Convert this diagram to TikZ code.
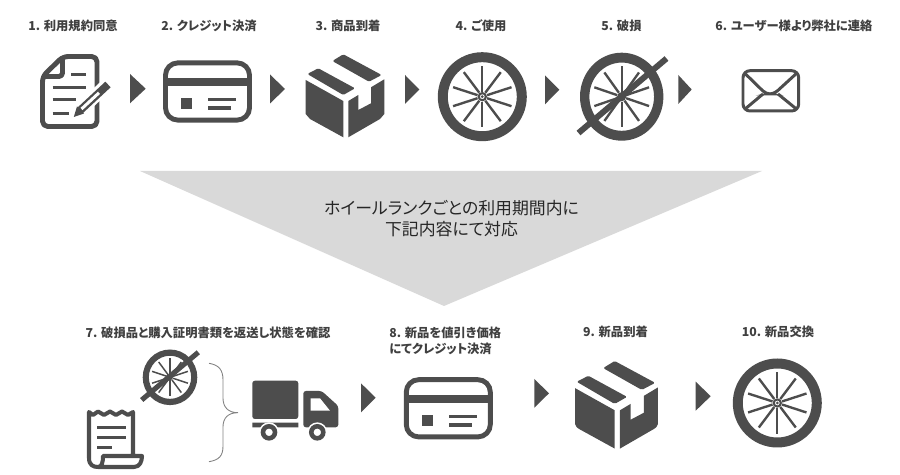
\documentclass[tikz,border=0pt]{standalone}
\usepackage{fontspec}
\setmainfont{Noto Sans CJK JP}
\usetikzlibrary{calc}
\definecolor{icongray}{HTML}{4D4D4D}
\definecolor{textgray}{HTML}{404040}
\definecolor{bandgray}{HTML}{D9D9D9}
\tikzset{
	stepicon/.style={draw=icongray, line width=2.8pt, line join=round},
	iconfill/.style={fill=icongray, draw=none},
	iconline/.style={draw=icongray, line width=1.7pt},
	slash/.style={draw=icongray, line width=#1},
	playmark/.style={fill=icongray, draw=none},
	steplabel/.style={font=\addfontfeatures{RawFeature=+palt}\fontsize{7}{9}\selectfont\bfseries, text=textgray, inner sep=0pt},
	bandtext/.style={font=\addfontfeatures{RawFeature=+palt}\fontsize{9.6}{11.9}\selectfont, text=black!85, inner sep=0pt, align=center}
}
% x, y, x radius, y radius
\def\wheelicon(#1,#2)(#3,#4){
	\begin{scope}[shift={(#1,#2)}, xscale=#3/44.5, yscale=#4/44.5]
		\fill[icongray, even odd rule] (0,0) circle (44.5) (0,0) circle (34.5);
		\foreach \a in {90,53,18,-18,-53,-90,-127,-162,162,127}
			\draw[icongray, line width=#4/44.5*1.35pt] (\a:5) -- (\a:30.7);
		\draw[icongray, line width=#4/44.5*1.2pt, fill=white] (0,0) circle (3.6);
		\fill[icongray] (0,0) circle (1.5);
	\end{scope}
}
\def\cardicon(#1,#2){
	\begin{scope}[shift={(#1,#2)}]
		\draw[stepicon, rounded corners=7] (-42,-28.6) rectangle (42,28.6);
		\fill[icongray] (-42,-13.5) rectangle (42,-5.5);
		\fill[icongray] (-26.5,6.5) rectangle (-15.5,17.5);
		\fill[icongray] (0.5,6.5) rectangle (28.5,10);
		\fill[icongray] (0.5,14.5) rectangle (23.5,18.5);
	\end{scope}
}
\def\boxicon(#1,#2)(#3){
	\begin{scope}[shift={(#1,#2)}, scale=#3]
		\fill[icongray, rounded corners=0.8] (-1.7,-41.7) -- (36.7,-21) -- (24,-14.3) -- (-12.7,-35) -- cycle;
		\fill[icongray, rounded corners=0.8] (-26.7,-27.7) -- (10,-7.7) -- (-1.7,-1) -- (-37.7,-22) -- cycle;
		\fill[icongray] (-39.3,-16) -- (-1.7,5) -- (-1.7,41.3) -- (-35,23) .. controls (-38,21) .. (-39.3,18) -- cycle;
		\fill[icongray] (3.3,5) -- (13.3,-1) -- (13.3,14) -- (26,7.3) -- (26,-8.7) -- (39.3,-16.7) -- (39.3,18) .. controls (38,21) .. (35,23) -- (3.3,41.3) -- cycle;
	\end{scope}
}

\begin{document}
\begin{tikzpicture}[x=0.02cm, y=-0.02cm]
	\useasboundingbox (0,0) rectangle (900,475);
	
	% labels, top row
	\node[steplabel] (label1) at (73,25.5) {1. 利用規約同意};
	\node[steplabel] (label2) at (209,25.5) {2. クレジット決済};
	\node[steplabel] (label3) at (348,25.5) {3. 商品到着};
	\node[steplabel] (label4) at (481,25.5) {4. ご使用};
	\node[steplabel] (label5) at (621.5,25.5) {5. 破損};
	\node[steplabel] (label6) at (794,25.5) {6. ユーザー様より弊社に連絡};
	
	% document
	\draw[stepicon, rounded corners=3] (42.5,76.5) -- (63,56.5) -- (97,56.5) -- (97,126.5) -- (42.5,126.5) -- cycle;
	\draw[stepicon, rounded corners=2] (42.5,76.5) -- (62.5,76.5) -- (62.5,56.5);
	\draw[iconline] (71,74.3) -- (86,74.3);
	\draw[iconline] (52.7,87.3) -- (86,87.3);
	\draw[iconline] (52.7,100) -- (76,100);
	\draw[iconline] (52.7,113.3) -- (69.3,113.3);
	\draw[white, line width=7.6pt] (76,114) -- (109,83);
	\draw[icongray, line width=4.4pt] (80,110.5) -- (108,84.5);
	\draw[white, line width=1.7pt] (81.5,109) -- (99,92.8);
	\fill[icongray] (73.8,117) -- (77,106.5) -- (84,113.5) -- cycle;
	
	\fill[playmark] (130,74) -- (145.7,88.7) -- (130,103.3) -- cycle;
	\cardicon(207.5,91.5)
	\fill[playmark] (270,74.5) -- (285,89) -- (270,103.5) -- cycle;
	\boxicon(345,96)(1)
	\fill[playmark] (405,75) -- (419.3,89.5) -- (405,104) -- cycle;
	\wheelicon(482.3,96.7)(44.5,44.5)
	\fill[playmark] (545,75.3) -- (559.3,89.8) -- (545,104.3) -- cycle;
	\wheelicon(621.7,96.7)(41.7,44)
	\draw[slash=3.4pt] (578.5,133) -- (666.5,58.5);
	\fill[playmark] (678.3,75) -- (691.7,89.5) -- (678.3,104) -- cycle;
	
	% envelope
	\draw[icongray, line width=1.7pt, rounded corners=4] (743,70.7) rectangle (798.7,111);
	\draw[icongray, line width=1.7pt, rounded corners=2.5] (744,72.5) -- (766,94) -- (774,94) -- (797.5,72.5);
	\draw[iconline] (744.5,109.5) -- (763,94);
	\draw[iconline] (797,109.5) -- (778,94);
	
	% band
	\fill[bandgray] (140,171) -- (762,171) -- (444,306) -- cycle;
	\node[bandtext] (bandnote) at (451.5,218.5) {ホイールランクごとの利用期間内に\\下記内容にて対応};
	
	% labels, bottom row
	\node[steplabel] (label7) at (208,333) {7. 破損品と購入証明書類を返送し状態を確認};
	\node[steplabel, anchor=west, align=left] (label8) at (389,340.5) {8. 新品を値引き価格\\にてクレジット決済};
	\node[steplabel] (label9) at (615.5,332) {9. 新品到着};
	\node[steplabel] (label10) at (778,332) {10. 新品交換};
	
	\wheelicon(170,377.3)(27.3,27.8)
	\draw[slash=2.9pt] (141.7,400) -- (198.3,352.3);
	
	% receipt
	\draw[stepicon, line width=2.3pt] (133,455) -- (133,412) -- (128,415) -- (122,411.5) -- (116,415) -- (110,411.5) -- (104,415) -- (98,411.5) -- (93,415) -- (89,412) -- (89,458) .. controls (89,465) and (93,467) .. (98,467) -- (134,467) .. controls (140,467) and (142,461) .. (142,456) -- (103,456) .. controls (103,462) and (102,467) .. (98,467);
	\draw[iconline, line width=1.4pt] (97,427.3) -- (125.7,427.3);
	\draw[iconline, line width=1.4pt] (97,437.3) -- (125.7,437.3);
	\draw[iconline, line width=1.4pt] (97,447.7) -- (111.7,447.7);
	
	% brace
	\draw[icongray!70, line width=0.5pt] (209,363.3) .. controls (219,365) and (223,370) .. (223,380) -- (223,398) .. controls (223,407) and (228,412.7) .. (238,412.7) .. controls (228,412.7) and (223,418) .. (223,427) -- (223,446) .. controls (223,456) and (219,460) .. (209,461.7);
	
	% truck
	\fill[icongray, rounded corners=1.5] (252.3,380.7) rectangle (298.3,419);
	\fill[icongray, rounded corners=1.5] (303.3,427.3) -- (303.3,391) -- (321.7,391) -- (338.3,406) -- (338.3,427.3) -- cycle;
	\fill[white] (310.7,398.3) -- (320,398.3) -- (330,410.7) -- (310.7,410.7) -- cycle;
	\fill[icongray] (252.3,422.7) -- (298.3,422.7) -- (298.3,427.3) -- (257,427.3) -- (252.3,427.3) -- cycle;
	\draw[icongray, line width=2.6pt, fill=white, preaction={draw=white, line width=4.4pt}] (269,432.3) circle (6);
	\draw[icongray, line width=2.6pt, fill=white, preaction={draw=white, line width=4.4pt}] (317.3,432.3) circle (6);
	
	\fill[playmark] (361,383.3) -- (375.7,397.8) -- (361,412.3) -- cycle;
	\cardicon(448.3,408.3)
	\fill[playmark] (534.3,379) -- (549,393.3) -- (534.3,407.7) -- cycle;
	\boxicon(616.5,405)(1.055)
	\fill[playmark] (695.7,381.7) -- (710.7,396.2) -- (695.7,410.7) -- cycle;
	\wheelicon(777.3,403)(44.5,44.5)
\end{tikzpicture}
\end{document}
